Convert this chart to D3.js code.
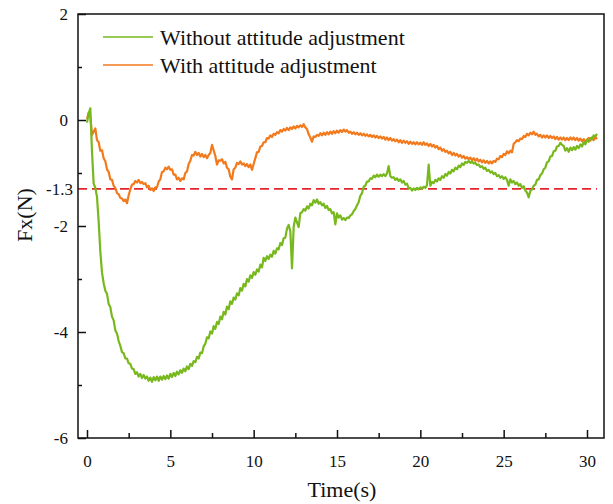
<!DOCTYPE html>
<html><head><meta charset="utf-8">
<script src="https://cdn.jsdelivr.net/npm/d3@7"></script>
<style>body{margin:0;background:#fff}svg{display:block}text{font-family:"Liberation Serif","Times New Roman",serif;fill:#111}</style>
</head><body><svg id="c" width="613" height="504"></svg>
<script>
const timeS = [
0.0,0.1,0.2,0.3,0.4,0.5,0.6,0.7,0.8,0.9,
1.0,1.1,1.2,1.3,1.4,1.5,1.6,1.7,1.8,1.9,
2.0,2.1,2.2,2.3,2.4,2.5,2.6,2.7,2.8,2.9,
3.0,3.1,3.2,3.3,3.4,3.5,3.6,3.7,3.8,3.9,
4.0,4.1,4.2,4.3,4.4,4.5,4.6,4.7,4.8,4.9,
5.0,5.1,5.2,5.3,5.4,5.5,5.6,5.7,5.8,5.9,
6.0,6.1,6.2,6.3,6.4,6.5,6.6,6.7,6.8,6.9,
7.0,7.1,7.2,7.3,7.4,7.5,7.6,7.7,7.8,7.9,
8.0,8.1,8.2,8.3,8.4,8.5,8.6,8.7,8.8,8.9,
9.0,9.1,9.2,9.3,9.4,9.5,9.6,9.7,9.8,9.9,
10.0,10.1,10.2,10.3,10.4,10.5,10.6,10.7,10.8,10.9,
11.0,11.1,11.2,11.3,11.4,11.5,11.6,11.7,11.8,11.9,
12.0,12.1,12.2,12.3,12.4,12.5,12.6,12.7,12.8,12.9,
13.0,13.1,13.2,13.3,13.4,13.5,13.6,13.7,13.8,13.9,
14.0,14.1,14.2,14.3,14.4,14.5,14.6,14.7,14.8,14.9,
15.0,15.1,15.2,15.3,15.4,15.5,15.6,15.7,15.8,15.9,
16.0,16.1,16.2,16.3,16.4,16.5,16.6,16.7,16.8,16.9,
17.0,17.1,17.2,17.3,17.4,17.5,17.6,17.7,17.8,17.9,
18.0,18.1,18.2,18.3,18.4,18.5,18.6,18.7,18.8,18.9,
19.0,19.1,19.2,19.3,19.4,19.5,19.6,19.7,19.8,19.9,
20.0,20.1,20.2,20.3,20.4,20.5,20.6,20.7,20.8,20.9,
21.0,21.1,21.2,21.3,21.4,21.5,21.6,21.7,21.8,21.9,
22.0,22.1,22.2,22.3,22.4,22.5,22.6,22.7,22.8,22.9,
23.0,23.1,23.2,23.3,23.4,23.5,23.6,23.7,23.8,23.9,
24.0,24.1,24.2,24.3,24.4,24.5,24.6,24.7,24.8,24.9,
25.0,25.1,25.2,25.3,25.4,25.5,25.6,25.7,25.8,25.9,
26.0,26.1,26.2,26.3,26.4,26.5,26.6,26.7,26.8,26.9,
27.0,27.1,27.2,27.3,27.4,27.5,27.6,27.7,27.8,27.9,
28.0,28.1,28.2,28.3,28.4,28.5,28.6,28.7,28.8,28.9,
29.0,29.1,29.2,29.3,29.4,29.5,29.6,29.7,29.8,29.9,
30.0,30.1,30.2,30.3,30.4,30.5,30.6
];
const withoutAdj = [
-0.05,0.12,0.22,-0.60,-1.20,-1.28,-1.45,-1.92,-2.48,-2.88,
-3.08,-3.22,-3.28,-3.47,-3.53,-3.71,-3.78,-3.97,-4.03,-4.17,
-4.26,-4.38,-4.40,-4.50,-4.50,-4.59,-4.60,-4.69,-4.70,-4.79,
-4.76,-4.84,-4.79,-4.87,-4.81,-4.88,-4.84,-4.92,-4.86,-4.94,
-4.85,-4.91,-4.84,-4.92,-4.84,-4.90,-4.83,-4.89,-4.82,-4.88,
-4.79,-4.85,-4.77,-4.83,-4.75,-4.80,-4.72,-4.77,-4.69,-4.74,
-4.65,-4.70,-4.60,-4.64,-4.55,-4.57,-4.47,-4.50,-4.39,-4.40,
-4.27,-4.22,-4.10,-4.12,-3.99,-4.03,-3.89,-3.94,-3.81,-3.85,
-3.71,-3.76,-3.62,-3.67,-3.52,-3.57,-3.42,-3.47,-3.35,-3.39,
-3.27,-3.31,-3.17,-3.22,-3.09,-3.14,-3.00,-3.05,-2.93,-2.98,
-2.87,-2.92,-2.82,-2.86,-2.73,-2.78,-2.60,-2.66,-2.57,-2.62,
-2.54,-2.58,-2.47,-2.52,-2.42,-2.44,-2.32,-2.36,-2.23,-2.22,
-2.05,-1.98,-2.10,-2.80,-2.02,-1.84,-1.93,-2.02,-1.76,-1.74,
-1.68,-1.71,-1.63,-1.67,-1.58,-1.61,-1.51,-1.56,-1.50,-1.58,
-1.55,-1.61,-1.58,-1.66,-1.62,-1.70,-1.68,-1.76,-1.74,-1.97,
-1.76,-1.84,-1.80,-1.88,-1.85,-1.89,-1.84,-1.85,-1.80,-1.78,
-1.72,-1.68,-1.61,-1.55,-1.43,-1.38,-1.26,-1.24,-1.16,-1.16,
-1.10,-1.11,-1.05,-1.08,-1.03,-1.07,-1.03,-1.06,-1.02,-1.06,
-1.01,-0.87,-1.06,-1.09,-1.08,-1.13,-1.10,-1.15,-1.12,-1.18,
-1.15,-1.22,-1.20,-1.29,-1.28,-1.33,-1.29,-1.32,-1.28,-1.31,
-1.27,-1.30,-1.26,-1.28,-1.23,-0.84,-1.24,-1.17,-1.19,-1.13,
-1.16,-1.10,-1.13,-1.06,-1.09,-1.02,-1.05,-0.98,-1.01,-0.94,
-0.97,-0.90,-0.93,-0.86,-0.89,-0.82,-0.85,-0.79,-0.81,-0.77,
-0.81,-0.78,-0.82,-0.81,-0.85,-0.84,-0.89,-0.87,-0.92,-0.90,
-0.96,-0.94,-0.99,-0.97,-1.02,-1.00,-1.06,-1.04,-1.09,-1.06,
-1.11,-1.08,-1.13,-1.24,-1.12,-1.18,-1.15,-1.21,-1.18,-1.24,
-1.21,-1.28,-1.25,-1.33,-1.37,-1.46,-1.34,-1.31,-1.24,-1.22,
-1.13,-1.12,-1.04,-1.01,-0.93,-0.90,-0.80,-0.78,-0.69,-0.68,
-0.59,-0.58,-0.50,-0.49,-0.43,-0.47,-0.49,-0.58,-0.53,-0.60,
-0.52,-0.57,-0.51,-0.56,-0.49,-0.53,-0.46,-0.50,-0.42,-0.46,
-0.38,-0.41,-0.34,-0.36,-0.29,-0.31,-0.26
];
const withAdj = [
0.02,0.14,0.06,-0.28,-0.22,-0.16,-0.38,-0.42,-0.58,-0.57,
-0.72,-0.78,-0.93,-0.98,-1.12,-1.13,-1.24,-1.28,-1.38,-1.40,
-1.47,-1.48,-1.53,-1.50,-1.57,-1.42,-1.31,-1.22,-1.21,-1.15,
-1.18,-1.13,-1.19,-1.17,-1.21,-1.19,-1.27,-1.24,-1.32,-1.29,
-1.34,-1.27,-1.27,-1.16,-1.12,-0.98,-0.97,-0.90,-0.93,-0.88,
-0.94,-0.93,-1.03,-1.03,-1.12,-1.09,-1.15,-1.10,-1.12,-1.00,
-0.97,-0.83,-0.77,-0.66,-0.67,-0.60,-0.66,-0.62,-0.69,-0.64,
-0.70,-0.66,-0.72,-0.66,-0.62,-0.47,-0.57,-0.68,-0.84,-0.76,
-0.77,-0.74,-0.82,-0.79,-0.90,-0.93,-1.07,-1.12,-0.93,-0.90,
-0.81,-0.83,-0.78,-0.84,-0.82,-0.87,-0.83,-0.89,-0.84,-0.94,
-0.83,-0.72,-0.61,-0.60,-0.50,-0.49,-0.42,-0.42,-0.34,-0.35,
-0.29,-0.32,-0.26,-0.28,-0.23,-0.25,-0.19,-0.22,-0.17,-0.20,
-0.15,-0.19,-0.14,-0.17,-0.12,-0.16,-0.11,-0.14,-0.10,-0.13,
-0.08,-0.14,-0.17,-0.27,-0.33,-0.41,-0.31,-0.32,-0.28,-0.30,
-0.25,-0.29,-0.24,-0.28,-0.23,-0.27,-0.22,-0.26,-0.21,-0.25,
-0.20,-0.24,-0.19,-0.23,-0.18,-0.22,-0.19,-0.24,-0.22,-0.26,
-0.23,-0.27,-0.24,-0.28,-0.25,-0.29,-0.26,-0.30,-0.27,-0.31,
-0.28,-0.32,-0.29,-0.33,-0.30,-0.34,-0.31,-0.35,-0.32,-0.37,
-0.33,-0.38,-0.34,-0.39,-0.36,-0.40,-0.37,-0.42,-0.38,-0.43,
-0.39,-0.43,-0.40,-0.45,-0.41,-0.45,-0.42,-0.46,-0.42,-0.46,
-0.43,-0.47,-0.42,-0.47,-0.44,-0.49,-0.45,-0.50,-0.47,-0.52,
-0.49,-0.55,-0.52,-0.58,-0.55,-0.60,-0.58,-0.63,-0.60,-0.66,
-0.62,-0.67,-0.64,-0.69,-0.66,-0.71,-0.68,-0.73,-0.70,-0.74,
-0.71,-0.76,-0.72,-0.77,-0.73,-0.78,-0.75,-0.80,-0.76,-0.81,
-0.77,-0.82,-0.78,-0.82,-0.77,-0.79,-0.73,-0.74,-0.68,-0.70,
-0.64,-0.66,-0.59,-0.63,-0.58,-0.61,-0.45,-0.42,-0.38,-0.40,
-0.35,-0.36,-0.30,-0.32,-0.26,-0.29,-0.24,-0.27,-0.22,-0.28,
-0.26,-0.31,-0.28,-0.33,-0.29,-0.33,-0.29,-0.34,-0.30,-0.34,
-0.31,-0.36,-0.32,-0.37,-0.33,-0.37,-0.33,-0.38,-0.34,-0.38,
-0.33,-0.37,-0.33,-0.38,-0.34,-0.39,-0.35,-0.40,-0.36,-0.41,
-0.37,-0.34,-0.39,-0.33,-0.38,-0.32,-0.36
];
const thresholdValue = -1.3;
const seriesNames = ["Without attitude adjustment", "With attitude adjustment"];
const seriesColors = ["#77b81c", "#f27a1c"];
const xTickValues = [0, 5, 10, 15, 20, 25, 30];
const xMinorTicks = [2.5, 7.5, 12.5, 17.5, 22.5, 27.5];
const yTickValues = [2, 0, -2, -4, -6];
const yMinorTicks = [1, -1, -3, -5];
const yExtraLabel = [-1.3];

const svg = d3.select("#c");
const L = 78, R = 604, T = 14, B = 438;
const x = d3.scaleLinear().domain([-0.54, 31.02]).range([L, R]);
const y = d3.scaleLinear().domain([-6, 2]).range([B, T]);
const fmt = d => String(d);

// threshold dashed line
svg.append("line").attr("x1", L).attr("x2", x(30.6)).attr("y1", y(thresholdValue)).attr("y2", y(thresholdValue))
  .attr("stroke", "#e3262b").attr("stroke-width", 1.6).attr("stroke-dasharray", "9,5");

const line = d3.line().x(d => x(d[0])).y(d => y(d[1]));
const seriesData = [d3.zip(timeS, withoutAdj), d3.zip(timeS, withAdj)];
[1, 0].forEach(i => {
  svg.append("path").datum(seriesData[i]).attr("d", line).attr("fill", "none")
    .attr("stroke", seriesColors[i]).attr("stroke-width", 2.2).attr("stroke-linejoin", "round");
});

// frame
svg.append("rect").attr("x", L).attr("y", T).attr("width", R - L).attr("height", B - T)
  .attr("fill", "none").attr("stroke", "#111").attr("stroke-width", 1.5);

// x axis
const gx = svg.append("g").attr("transform", `translate(0,${B})`);
gx.call(d3.axisBottom(x).tickValues(xTickValues).tickSize(-8).tickPadding(17).tickFormat(fmt));
gx.append("g").call(d3.axisBottom(x).tickValues(xMinorTicks).tickSize(-5).tickFormat(""));
gx.selectAll(".domain").remove();
gx.selectAll("line").attr("stroke", "#111").attr("stroke-width", 1.5);
gx.selectAll("text").attr("font-size", 17).attr("font-family", "Liberation Serif").attr("fill", "#111");

// y axis
const gy = svg.append("g").attr("transform", `translate(${L},0)`);
gy.call(d3.axisLeft(y).tickValues(yTickValues).tickSize(-8).tickPadding(10).tickFormat(fmt));
gy.append("g").call(d3.axisLeft(y).tickValues(yMinorTicks).tickSize(-4).tickFormat(""));
gy.append("g").call(d3.axisLeft(y).tickValues(yExtraLabel).tickSize(0).tickPadding(5).tickFormat(fmt));
gy.selectAll(".domain").remove();
gy.selectAll("line").attr("stroke", "#111").attr("stroke-width", 1.5);
gy.selectAll("text").attr("font-size", 17).attr("font-family", "Liberation Serif").attr("fill", "#111");

// axis titles
svg.append("text").attr("x", 342).attr("y", 497).attr("text-anchor", "middle").attr("font-size", 22).text("Time(s)");
svg.append("text").attr("transform", "translate(32,215) rotate(-90)").attr("text-anchor", "middle").attr("font-size", 22).text("Fx(N)");

// legend
seriesNames.forEach((n, i) => {
  const ly = 37 + i * 28;
  svg.append("line").attr("x1", 103).attr("x2", 153).attr("y1", ly).attr("y2", ly)
    .attr("stroke", seriesColors[i]).attr("stroke-width", 1.6);
  svg.append("text").attr("x", 160).attr("y", ly + 8).attr("font-size", 22).text(n);
});
</script></body></html>
